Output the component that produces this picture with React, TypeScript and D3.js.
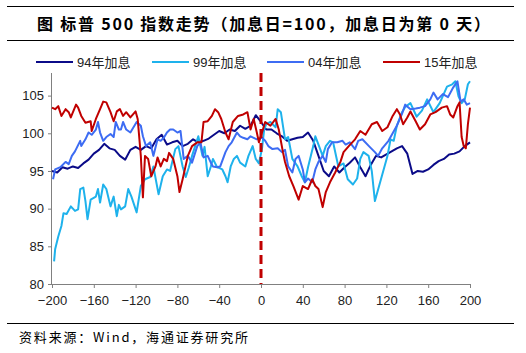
import { useEffect, useRef } from "react";
import * as d3 from "d3";

const W = 526;
const H = 353;

const seriesNames = ["94年加息", "99年加息", "04年加息", "15年加息"];
const seriesColors = ["#0B0B88", "#1EB2EC", "#3D6CF3", "#C00000"];
const xTicks = [-200, -160, -120, -80, -40, 0, 40, 80, 120, 160, 200];
const yTicks = [80, 85, 90, 95, 100, 105];

// [day, index] pairs
const hike94: [number, number][] = [
  [-200, 95.0], [-195, 94.8], [-190, 95.5], [-185, 95.3], [-180, 95.6], [-175, 95.4],
  [-170, 96.0], [-165, 96.5], [-160, 97.3], [-155, 97.8], [-150, 98.6], [-145, 98.0],
  [-140, 97.8], [-135, 97.0], [-130, 96.5], [-125, 97.8], [-120, 98.2], [-115, 97.8],
  [-110, 98.3], [-105, 98.0], [-100, 99.2], [-95, 99.8], [-90, 98.5], [-85, 98.8],
  [-80, 99.0], [-75, 98.3], [-70, 98.6], [-65, 99.2], [-60, 98.8], [-55, 99.0],
  [-50, 99.3], [-45, 99.8], [-40, 100.3], [-35, 100.0], [-30, 100.5], [-25, 100.3],
  [-20, 101.0], [-15, 100.6], [-10, 101.0], [-5, 102.4], [0, 101.5], [5, 100.5],
  [10, 100.5], [15, 100.0], [20, 99.6], [25, 99.0], [30, 99.2], [35, 99.4],
  [40, 99.5], [45, 100.1], [50, 99.0], [55, 97.0], [60, 95.0], [65, 94.3],
  [70, 95.6], [75, 94.8], [80, 95.5], [85, 96.1], [90, 96.8], [95, 95.5],
  [100, 94.3], [105, 95.8], [110, 97.0], [115, 96.8], [120, 97.2], [125, 97.6],
  [130, 98.0], [135, 98.3], [140, 97.3], [145, 94.6], [150, 95.0], [155, 94.9],
  [160, 95.2], [165, 95.8], [170, 96.3], [175, 96.6], [180, 97.2], [185, 97.3],
  [190, 97.6], [195, 98.3], [200, 98.8],
];

const hike99: [number, number][] = [
  [-198, 83.0], [-197, 84.6], [-194, 86.3], [-191, 87.7], [-189, 89.4], [-186, 89.3],
  [-182, 90.3], [-178, 89.7], [-175, 89.9], [-173, 92.6], [-170, 92.8], [-168, 91.0],
  [-166, 88.6], [-163, 91.2], [-158, 91.6], [-156, 92.6], [-154, 90.8], [-151, 93.2],
  [-148, 92.6], [-144, 90.3], [-141, 91.6], [-138, 89.0], [-136, 90.5], [-134, 89.9],
  [-130, 90.3], [-127, 92.6], [-124, 91.6], [-119, 89.5], [-115, 93.0], [-111, 93.9],
  [-106, 94.2], [-103, 95.6], [-98, 91.9], [-94, 94.3], [-90, 95.2], [-87, 95.0],
  [-82, 97.9], [-79, 98.3], [-75, 95.6], [-72, 94.2], [-69, 95.5], [-66, 97.0],
  [-63, 98.3], [-60, 99.6], [-56, 97.0], [-54, 98.2], [-51, 94.3], [-48, 95.6],
  [-46, 96.6], [-42, 95.5], [-37, 95.2], [-34, 94.3], [-32, 93.5], [-29, 95.6],
  [-26, 96.6], [-23, 97.0], [-20, 96.1], [-15, 95.6], [-12, 97.0], [-8, 98.3],
  [-5, 96.6], [-2, 96.0], [1, 98.0], [3, 100.5], [5, 101.2], [9, 101.5],
  [14, 100.8], [16, 103.2], [19, 102.8], [23, 99.2], [26, 99.5], [30, 96.6],
  [35, 95.6], [39, 94.3], [42, 93.5], [45, 95.5], [50, 98.3], [52, 99.6],
  [55, 98.5], [59, 97.0], [62, 98.3], [66, 99.0], [69, 98.8], [74, 95.6],
  [79, 96.0], [83, 93.9], [88, 93.2], [92, 94.0], [95, 96.6], [98, 97.5],
  [103, 97.0], [106, 95.0], [109, 91.0], [112, 92.5], [116, 94.5], [121, 97.0],
  [124, 99.2], [127, 99.0], [130, 101.0], [135, 102.8], [138, 103.5], [143, 104.0],
  [149, 102.2], [154, 103.0], [159, 104.5], [165, 102.8], [171, 104.0], [178, 106.2],
  [183, 106.5], [186, 106.9], [189, 104.9], [192, 104.0], [195, 104.5], [198, 106.5],
  [200, 106.9],
];

const hike04: [number, number][] = [
  [-199, 93.9], [-197, 95.2], [-192, 95.5], [-187, 96.2], [-184, 95.9], [-181, 97.0],
  [-178, 97.6], [-173, 99.0], [-172, 98.3], [-168, 99.2], [-165, 100.1], [-162, 99.8],
  [-158, 100.5], [-156, 101.5], [-154, 100.1], [-151, 99.0], [-148, 99.5], [-144, 99.9],
  [-141, 99.5], [-139, 101.5], [-136, 100.5], [-134, 100.5], [-132, 101.5], [-129, 100.5],
  [-125, 100.1], [-122, 100.8], [-119, 101.5], [-115, 101.0], [-113, 99.6], [-110, 98.3],
  [-106, 98.8], [-103, 97.0], [-99, 99.2], [-96, 99.0], [-93, 99.4], [-90, 100.1],
  [-87, 100.5], [-84, 100.5], [-80, 100.1], [-77, 100.3], [-75, 97.9], [-74, 96.6],
  [-70, 97.0], [-66, 96.1], [-61, 98.3], [-58, 98.8], [-56, 97.5], [-55, 96.8],
  [-51, 97.0], [-48, 96.1], [-46, 95.6], [-42, 95.5], [-39, 95.6], [-34, 97.5],
  [-31, 98.3], [-28, 98.8], [-23, 100.1], [-20, 99.6], [-17, 99.4], [-13, 99.2],
  [-10, 99.6], [-7, 99.4], [-4, 99.2], [1, 99.4], [4, 99.0], [7, 98.3],
  [11, 97.9], [16, 98.0], [20, 97.5], [23, 97.8], [26, 95.6], [30, 94.8],
  [33, 96.6], [36, 97.0], [40, 95.2], [42, 93.5], [45, 94.0], [49, 93.5],
  [52, 95.2], [55, 96.2], [59, 97.0], [62, 96.2], [64, 97.9], [68, 98.8],
  [73, 98.8], [78, 99.0], [81, 98.5], [85, 98.8], [90, 97.9], [93, 99.0],
  [97, 99.2], [104, 98.2], [109, 97.5], [112, 97.0], [116, 98.0], [119, 98.5],
  [122, 99.0], [126, 100.0], [130, 101.0], [135, 102.6], [138, 103.8], [143, 103.2],
  [148, 103.3], [152, 103.4], [157, 103.6], [162, 104.5], [165, 105.4], [169, 104.5],
  [174, 105.2], [179, 104.8], [184, 106.1], [188, 106.9], [191, 104.2], [194, 104.5],
  [197, 103.8], [200, 104.0],
];

const hike15: [number, number][] = [
  [-200, 103.4], [-197, 103.2], [-194, 103.6], [-191, 102.3], [-187, 103.2], [-184, 102.8],
  [-182, 102.1], [-177, 103.8], [-175, 103.4], [-172, 102.3], [-168, 101.4], [-163, 101.6],
  [-162, 100.3], [-158, 101.9], [-154, 103.2], [-151, 104.2], [-148, 104.1], [-144, 102.8],
  [-141, 101.6], [-138, 102.9], [-135, 103.2], [-132, 102.3], [-129, 102.8], [-125, 102.1],
  [-120, 102.9], [-118, 101.9], [-115, 97.0], [-113, 91.5], [-111, 97.0], [-108, 96.6],
  [-105, 94.3], [-101, 95.6], [-99, 96.8], [-96, 95.6], [-93, 96.6], [-90, 96.3],
  [-88, 97.4], [-84, 96.6], [-80, 94.3], [-78, 92.2], [-75, 93.9], [-70, 97.0],
  [-66, 98.3], [-61, 98.8], [-57, 98.8], [-55, 101.5], [-51, 101.6], [-47, 102.3],
  [-44, 103.2], [-41, 102.8], [-38, 101.9], [-34, 100.1], [-31, 99.2], [-27, 101.5],
  [-22, 102.3], [-17, 102.5], [-13, 102.8], [-10, 100.5], [-7, 101.9], [-4, 100.1],
  [-2, 98.8], [1, 100.1], [4, 101.5], [9, 101.0], [14, 101.9], [17, 100.5],
  [21, 97.5], [23, 96.2], [27, 94.3], [31, 93.0], [36, 91.2], [40, 93.0],
  [45, 92.6], [49, 93.9], [52, 93.0], [55, 92.6], [59, 90.2], [62, 92.2],
  [66, 93.5], [71, 94.8], [76, 96.2], [79, 97.5], [84, 98.3], [90, 99.2],
  [95, 100.3], [100, 99.8], [106, 101.2], [111, 101.5], [116, 100.3], [121, 100.8],
  [126, 102.3], [130, 103.2], [133, 102.5], [136, 101.2], [140, 102.1], [143, 102.9],
  [148, 101.6], [152, 100.5], [157, 101.2], [162, 102.5], [167, 102.8], [173, 103.4],
  [178, 103.6], [181, 102.5], [184, 102.1], [188, 103.6], [190, 104.1], [192, 99.5],
  [194, 98.3], [196, 98.0], [198, 101.2], [200, 103.4],
];

const allSeries = [hike94, hike99, hike04, hike15];
const ruleY = [6, 40, 323];

const latin = "'Liberation Sans', Arial, 'Noto Sans CJK SC', sans-serif";
const cjk = "'Noto Sans CJK SC', 'Liberation Sans', sans-serif";

const App = () => {
  const ref = useRef<SVGGElement>(null);

  useEffect(() => {
    const svg = d3.select(ref.current);
    svg.selectAll("*").remove();

    const left = 52;
    const right = 470;
    const top = 73;
    const bottom = 284;

    const x = d3.scaleLinear().domain([-200, 200]).range([left, right]);
    const y = d3.scaleLinear().domain([80, 108]).range([bottom, top]);

    // header and footer rules
    ruleY.forEach((ry) => {
      svg
        .append("path")
        .attr("d", `M7,${ry + 0.5}H514`)
        .attr("stroke", "#000")
        .attr("stroke-width", 1)
        .attr("fill", "none");
    });

    svg
      .append("text")
      .attr("x", 37)
      .attr("y", 30)
      .attr("font-family", cjk)
      .attr("font-size", "16px")
      .attr("font-weight", "bold")
      .attr("textLength", 453)
      .attr("lengthAdjust", "spacing")
      .text("图  标普 500 指数走势（加息日=100，加息日为第 0 天）");

    svg
      .append("text")
      .attr("x", 19)
      .attr("y", 342)
      .attr("font-family", cjk)
      .attr("font-size", "13px")
      .attr("fill", "#000")
      .attr("textLength", 229)
      .attr("lengthAdjust", "spacing")
      .text("资料来源：Wind，海通证券研究所");

    // legend
    const legendX = [36, 152, 267, 383];
    seriesNames.forEach((name, i) => {
      const g = svg.append("g").attr("transform", `translate(${legendX[i]},62)`);
      g.append("line")
        .attr("x1", 0)
        .attr("x2", 37)
        .attr("stroke", seriesColors[i])
        .attr("stroke-width", 2);
      g.append("text")
        .attr("x", 41)
        .attr("y", 5)
        .attr("font-family", latin)
        .attr("font-size", "13px")
        .attr("fill", "#222")
        .text(name);
    });

    // axes
    const yAxis = svg
      .append("g")
      .attr("transform", `translate(${left},0)`)
      .call(d3.axisLeft(y).tickValues(yTicks).tickSize(4).tickPadding(4));
    yAxis.select(".domain").attr("stroke", "#808080").attr("d", `M-0.5,${top}V${bottom}`);
    yAxis.selectAll(".tick line").attr("stroke", "#808080");
    yAxis
      .selectAll(".tick text")
      .attr("font-family", latin)
      .attr("font-size", "13px")
      .attr("fill", "#222");

    const xAxis = svg
      .append("g")
      .attr("transform", `translate(0,${bottom})`)
      .call(d3.axisBottom(x).tickValues(xTicks).tickSize(4).tickPadding(8));
    xAxis.select(".domain").attr("stroke", "#808080").attr("d", `M${left},0.5H${right}`);
    xAxis.selectAll(".tick line").attr("stroke", "#808080");
    xAxis
      .selectAll(".tick text")
      .attr("font-family", latin)
      .attr("font-size", "13px")
      .attr("fill", "#222");

    const line = d3
      .line<[number, number]>()
      .x((d) => x(d[0]))
      .y((d) => y(d[1]));

    allSeries.forEach((data, i) => {
      svg
        .append("path")
        .datum(data)
        .attr("d", line)
        .attr("fill", "none")
        .attr("stroke", seriesColors[i])
        .attr("stroke-width", 2)
        .attr("stroke-linejoin", "round");
    });

    // hike day marker
    svg
      .append("line")
      .attr("x1", x(0))
      .attr("x2", x(0))
      .attr("y1", top)
      .attr("y2", bottom)
      .attr("stroke", "#C00000")
      .attr("stroke-width", 3)
      .attr("stroke-dasharray", "9,5");
  }, []);

  return (
    <svg
      width={W}
      height={H}
      xmlns="http://www.w3.org/2000/svg"
      style={{ position: "absolute", left: 0, top: 0, background: "#fff" }}
    >
      <g ref={ref}></g>
    </svg>
  );
};

export default App;
